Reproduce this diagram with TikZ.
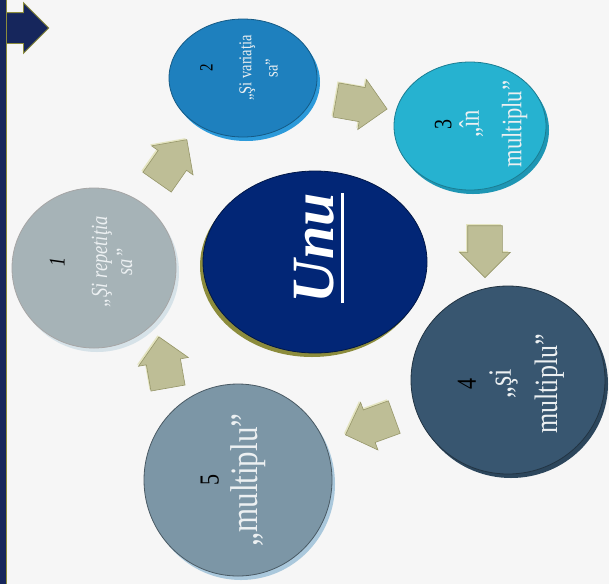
\documentclass[tikz,border=0pt]{standalone}
\usepackage{fontspec}
\setmainfont{Liberation Serif}
\usetikzlibrary{shapes.geometric,shapes.arrows,calc}

\definecolor{paper}{RGB}{246,246,246}
\definecolor{navy}{RGB}{22,38,92}
\definecolor{olive}{RGB}{140,140,60}
\definecolor{khaki}{RGB}{190,190,150}
\definecolor{khakiedge}{RGB}{150,150,105}
\definecolor{khakilight}{RGB}{228,228,192}
\definecolor{oneface}{RGB}{166,179,183}
\definecolor{onerim}{RGB}{214,226,232}
\definecolor{twoface}{RGB}{30,128,190}
\definecolor{tworim}{RGB}{44,154,218}
\definecolor{threeface}{RGB}{38,178,208}
\definecolor{threerim}{RGB}{30,150,180}
\definecolor{hubface}{RGB}{2,38,118}
\definecolor{fourface}{RGB}{56,86,112}
\definecolor{fourrim}{RGB}{44,70,92}
\definecolor{fiveface}{RGB}{124,150,166}
\definecolor{fiverim}{RGB}{170,200,220}
\definecolor{softwhite}{RGB}{236,240,242}

\newcommand{\coinnum}[2]{{\fontsize{#1}{#1}\selectfont\textcolor{black}{#2}}}

\begin{document}
\begin{tikzpicture}[x=1pt, y=-1pt,
    coin/.style={ellipse, inner sep=0pt, line width=0.8pt},
    rim/.style={preaction={fill=#1, transform canvas={shift={(3pt,-4pt)}}}},
    coinlabel/.style={rotate=90, yscale=1.25, align=center, text=softwhite, inner sep=0pt},
    turn/.style={single arrow, rotate=#1, fill=khaki, draw=khakiedge, line width=0.6pt,
        inner sep=17pt, single arrow head extend=8pt, minimum height=46pt,
        preaction={fill=khakilight, transform canvas={shift={(-1.5pt,1.5pt)}}}},
]

% fundal
\useasboundingbox (0,0) rectangle (609,584);
\fill[paper] (0,0) rectangle (609,584);

% sageata de sus si bara din stanga
\node[single arrow, fill=navy, draw=olive, line width=0.8pt, inner sep=15pt,
    single arrow head extend=10pt, minimum height=44pt] (go) at (18,28) {};
\fill[navy] (0,0) rectangle (6,584);
\draw[olive, line width=0.6pt] (6,0) -- (6,584);

% cercurile
\node[coin, fill=oneface, draw=gray!70, rim=onerim, minimum width=164pt, minimum height=160pt] (c1) at (94,268) {};
\node[coin, fill=twoface, draw=twoface!70!black, rim=tworim, minimum width=148pt, minimum height=118pt] (c2) at (243,78) {};
\node[coin, fill=threeface, draw=threeface!70!black, rim=threerim, minimum width=152pt, minimum height=128pt] (c3) at (470,126) {};
\node[coin, fill=fourface, draw=fourface!60!black, rim=fourrim, minimum width=194pt, minimum height=188pt] (c4) at (508,380) {};
\node[coin, fill=fiveface, draw=fiveface!60!black, rim=fiverim, minimum width=188pt, minimum height=192pt] (c5) at (238,480) {};
\node[coin, fill=hubface, draw=hubface!60!black,
    preaction={fill=olive, transform canvas={shift={(-3pt,-4pt)}}},
    minimum width=224pt, minimum height=182pt] (hub) at (315,262) {};

% textele
\node[coinlabel, font=\itshape\fontsize{18.5}{20}\selectfont] (t1) at (91,262)
    {\coinnum{18}{1}\\[14pt]„Şi repetiţia\\sa”};
\node[coinlabel, font=\fontsize{14.5}{21}\selectfont] (t2) at (239,68)
    {\coinnum{15}{2}\\[10pt]„Şi variaţia\\sa”};
\node[coinlabel, font=\fontsize{22.5}{34}\selectfont] (t3) at (481,124)
    {\coinnum{20}{3}\\[-12pt]„în\\multiplu”};
\node[coinlabel, font=\fontsize{26}{37}\selectfont] (t4) at (511,384)
    {\coinnum{22}{4}\\[-9pt]„şi\\multiplu”};
\node[coinlabel, font=\fontsize{31}{31}\selectfont] (t5) at (233,480)
    {\coinnum{22}{5}\\„multiplu”};
\node[rotate=90, text=white, inner sep=0pt, font=\bfseries\itshape\fontsize{60}{62}\selectfont] (unu) at (314,248) {Unu};
\draw[white, line width=2.5pt] ($(unu.base west)+(9,0)$) -- ($(unu.base east)+(9,0)$);

% sagetile dintre cercuri
\node[turn=55] (a12) at (167,168) {};
\node[turn=-10] (a23) at (353,103) {};
\node[turn=-90] (a34) at (485,243) {};
\node[turn=200] (a45) at (378,423) {};
\node[turn=100] (a51) at (165,371) {};

\end{tikzpicture}
\end{document}
